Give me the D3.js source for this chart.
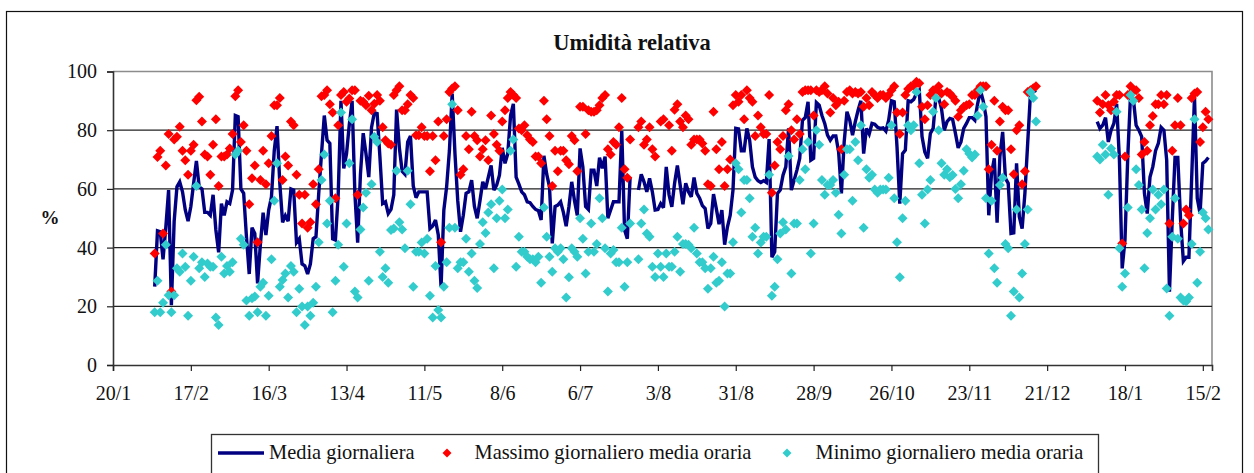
<!DOCTYPE html>
<html><head><meta charset="utf-8">
<script src="https://cdnjs.cloudflare.com/ajax/libs/d3/7.8.5/d3.min.js"></script>
<style>html,body{margin:0;padding:0;background:#fff}svg{display:block}</style>
</head><body><svg id="c" width="1254" height="473"></svg>
<script>
const title = "Umidità relativa";
const yLabel = "%";
const yTicks = [0,20,40,60,80,100];
const seriesNames = ["Media giornaliera","Massimo giornaliero media oraria","Minimo giornaliero media oraria"];
const axisStart = new Date(Date.UTC(2004,0,20));
const firstDay = 15;      // first record = axisStart + 15 days
const tickCount = 15;     // one tick every 28 days
const tickStepDays = 28;
const axisEndDays = 395.3;

const mediaGiornaliera = [
26.7,45.7,45.4,36,47,59.6,20.4,49,60.7,62.4,
59,52.8,49,54,61.9,69.5,60.7,60,52,52,
51,58,46,38.4,55,51,55.6,55,59.6,85,
84.6,60,58.5,43.7,31,46.8,44.8,27.8,40.9,51.9,
44.3,52.8,57.3,73,81.4,61.9,48.6,50.9,49,60,
59.6,41.7,43,34.4,33.8,31,34.4,43,43.7,58.5,
72,85,76.6,75.5,43,42.6,58,90,67,72,
82,90,58.5,41.7,65,79,72,64,81,86,
85.7,71,55,55.6,51.6,53,58,87,74,66,
65,76,78,61,57,59,59,59,59,46.5,
47.4,49.4,44.3,26.7,52.8,60.7,73,92.5,72,56,
45.4,51,58.5,59,63,54,50,56,62.4,60,
64,68,59.6,61.3,64.7,74,68.7,72,85,89,
64,61.6,59,58,55.6,55.3,54,53,52.6,49.4,
71.3,65,60.7,41.4,54,54.5,55.6,52,47.3,54,
62.4,56,51,73.8,67.5,54,53,66.4,66.4,61,
70.6,67,71,50,52.8,55.6,55.6,55.6,79.7,46,
43,64,null,null,59.6,65,62.4,59,63.6,59,
52.8,53,55,53.6,67.5,58,53.9,61.9,68,61.3,
54.8,61.9,59,57.3,63.9,58.5,56.8,54.3,53.3,46.5,
48.2,58.2,53.3,48,52.8,41,47,51,59.6,80.6,
80.4,73,73,80.6,76.6,67.5,64,62.8,62.2,62.8,
62.2,77,36.7,38.6,58.5,59.6,64.7,67.5,80.6,59.6,
63,66.4,70.4,83.4,84.3,89.7,69.8,70.4,89.4,88.5,
85,82.3,78.3,76.6,78,78,72.6,58.5,76,86.3,
83.4,78.3,82.9,86.8,90,72,80.6,78.7,82.3,82,
81,80.6,80.8,79.7,83.4,90,89.7,74.3,55,72,
73.2,90,89.7,90.5,92.5,93.6,77.8,72.6,70.4,78.9,
80.6,91.4,91,87.4,80,82.9,84,83.7,79,74,
76,80.6,82.3,84.3,84.3,83.4,89,93.6,90,84.6,
51,65.3,70.4,48.5,71,79.4,63.6,61.9,44.8,45,
68.7,50.5,46.5,58.5,75.5,92.5,93,93.6,
null,null,null,null,null,null,null,null,null,null,null,null,null,null,null,null,null,null,null,null,null,
82.9,80.6,81.7,84.3,76,80,82.3,89,70,32.9,42.6,70.9,92,90.8,81.7,80,77.8,58.5,51.6,64,
67.5,73,75.5,81,80,69.8,25,49.4,70.7,70.7,49.4,35.4,36.7,36.7,64,91.4,56.8,51.6,68.7,69.5,70.7
];

const massimoGiornaliero = [
38,70.9,73,44.8,68,78.7,25,76.8,77.8,81.2,
73,69.8,64.8,73,75,90.2,91.4,83,71.7,71,
64.8,75,83.7,61,71,71,71.7,73.8,78.7,91.6,
93.6,76,81.7,73,54.8,63.6,68,41.8,63,73,
61.6,68.7,78,88.5,88.5,91,63,71,68,83,
81.7,64.8,58,48.2,58,46.8,48.6,61.6,54.8,66.7,
91.6,92,93.6,88.8,86,56.8,81.7,92,93,89.7,
90.8,93.6,93.6,58,90,89.7,88.5,91.7,86.8,89,
92,90,81,76.6,75.5,75,92,93.6,95,86.8,
86.8,88.8,92,91,78.3,78.3,81,78,78,66,
78,69.8,83,41.8,78,83.7,93,94.2,95,86.8,
64.8,66.7,78,73.5,86.3,78,76.6,71,73.5,76.6,
69.8,85,78.7,75,73,83,86.8,91,93,92,
91,80.6,80,81.7,78.3,76.8,76,71,71,68.7,
90,83.7,78,61,73,66,73,73,69.8,68.4,
78,76.6,66,88,88,78.7,86.8,86.3,86.3,86.8,
88.5,91,92,73.5,71.7,76,75,81,91,66.7,
63.8,76.8,null,null,81,83,75,76.8,81,73.5,
71,null,83,83.7,null,81.7,73,87,88.8,83,
81,85,83.7,75,76.8,76.8,76.8,75.5,73,61.6,
61,86.3,73.5,66.7,76,61,66.7,70,88.5,92,
89.7,92,83.7,93.6,91,89.7,78,85,81,78.7,
78.7,92,58.7,68,76,73.5,78,86.8,88.8,80,
76.8,83.7,78.7,93,93.6,93.6,93.6,85,93.6,93,
93.6,95,92.5,86,91,88.5,89.7,73.5,90,93,
93.6,92.5,93,92.5,93,88,91,88.5,93,92,
91,92,92,91,92,93.6,95,86,78.7,86,
92,94,95,95,96.5,96,88,83.7,88.5,92,
93.6,93.6,95,92.5,88.8,93,92.5,91.4,90,84.6,
86.8,88,88.5,88.8,92,92,93.6,95,95,95,
66.7,75,90,73,83,88,86.8,86.8,73.5,65,
80,81.7,61.6,66,93,93.6,94.3,95,
null,null,null,null,null,null,null,null,null,null,null,null,null,null,null,null,null,null,null,null,null,
90,86,88.8,92,88.5,86.8,89.7,92,92,41.4,71,92,95,93.6,93.6,91,71.7,76,73,81.7,
84.8,88.8,88.8,92,88.8,92,48.2,73,81.7,91,81.7,48.2,53,51,91,92.5,93,76,81,86.3,83.7
];

const minimoGiornaliero = [
18,28.7,18,21.2,41,23.8,18,23.8,33,31.8,
38,33.5,16.8,28.7,36.9,61,33,35,30,34.6,
33.5,33.5,16.2,13.6,36.9,31.2,33.7,31.8,35,71.7,
73,43,41,22,16.8,22.7,23.3,18,26.7,28,
16.8,23.6,36,56,68.7,26.7,29,31.2,23,33.7,
31.8,18,26,19.9,13.6,19.9,16.8,21.2,26.7,41.8,
63,71.7,48.2,56,18,28.7,41,86,33.5,48.2,
68.7,83.7,25,23,46.2,53.7,58.7,28.7,61.6,77.8,
76,38.6,30,33,28,46,46.5,66.2,48.6,46.2,
39.8,66.2,54.8,26.7,38.6,38.6,41.7,38,43,23.6,
16.2,33.7,18.7,16.2,26.7,35,46.8,88.8,46.8,33,
35,35,43,31.8,38,28.7,26.2,41.2,48.6,45,
52,54.8,33,50,56,59.8,50,53,73,76.8,
33.5,43.7,38.6,38.6,36.9,36,36,35,36.9,28,
53.7,43.7,36.9,31.8,39.8,38.6,39.8,36,23,29.9,
39.8,38.6,36.9,50,43,31.2,38.6,48.2,38.6,41.2,
56.8,50,39.8,25,38,39.2,35,35,46.8,26.7,
35,48.2,null,null,36,48.2,53,44.8,43.7,33.5,
30,38,33.5,30,38,33.5,33.5,38.6,43.7,31.8,
41.2,41.2,41,39.8,46.8,38,35,35,33,26,
33,36.9,28,28.7,35,19.9,31.2,31.2,41.8,68.7,
66.7,52,63,63,56.8,43.7,46.8,38,41.7,43.7,
43.7,64.8,23.6,26.7,36,44.8,48.6,46.2,71.2,31.2,
48.2,48.2,63,73.5,66.7,76,38,48.2,80,75,
63,58,61.3,61.3,63,58.7,51.2,44.8,64.8,73.5,
73.5,56,76,69.8,81.7,46.8,66.7,63.8,64.8,59.8,
58.7,59.8,59.8,59.8,63.8,81.7,56.8,41.8,29.9,50,
56,81.7,80,81.7,93,68.7,58,48.2,59.8,63,
86.3,91,80,68.7,64.8,66.7,64,64.7,60,56.8,
61.6,66.2,73.5,72,70.7,71.7,85,93.6,88,56.8,
38,56,33,28,61.3,63.8,41.2,39.8,16.8,25,
53,23,31.2,41.2,53,93,91,83,
null,null,null,null,null,null,null,null,null,null,null,null,null,null,null,null,null,null,null,null,null,
71,70,75,71.7,58,73.8,71.7,86.3,39.8,26.7,31.2,53.7,92,90,66.7,61.3,53,33,45,50,
59.8,53,58,54.8,59.8,26.1,16.8,43.7,56.8,43,23,22,21.6,23,41.2,83.7,28,38.6,52,50,46.2
];

const serifFont = "'Liberation Serif'";
const svg = d3.select("#c").style("font-family",serifFont);
const dayMs = 864e5;
const x = d3.scaleUtc().domain([axisStart, new Date(+axisStart + axisEndDays*dayMs)]).range([113,1212]);
const y = d3.scaleLinear().domain([0,100]).range([365,71.5]);
const dateOf = i => d3.utcDay.offset(axisStart, firstDay+i);

// outer chart frame
svg.append("rect").attr("x",6.5).attr("y",11.5).attr("width",1236).attr("height",500)
  .attr("fill","#fff").attr("stroke","#111").attr("stroke-width",1.2);

// plot frame (top and right edges) and gridlines
svg.append("path").attr("d",`M113,${y(100)}H1212V${y(0)}`).attr("fill","none").attr("stroke","#8c8c8c").attr("stroke-width",1.6);
svg.append("g").selectAll("line").data(yTicks.filter(t=>t>0&&t<100)).join("line")
  .attr("x1",113).attr("x2",1212).attr("y1",d=>y(d)).attr("y2",d=>y(d))
  .attr("stroke","#222").attr("stroke-width",1.2);

// axes
const tickDates = d3.range(tickCount).map(k=>d3.utcDay.offset(axisStart,k*tickStepDays));
const xAxis = svg.append("g").attr("transform",`translate(0,${y(0)})`)
  .call(d3.axisBottom(x).tickValues(tickDates).tickFormat(d3.utcFormat("%-d/%-m")).tickSizeOuter(0).tickSize(6).tickPadding(14.8));
const yAxis = svg.append("g").attr("transform","translate(113,0)")
  .call(d3.axisLeft(y).tickValues(yTicks).tickSizeOuter(0).tickSize(6).tickPadding(10));
[xAxis,yAxis].forEach(g=>{
  g.attr("font-family",null).attr("font-size",null);
  g.selectAll("text").style("font-family",serifFont).style("font-size","20px").attr("fill","#111");
  g.selectAll("line").attr("stroke","#222").attr("stroke-width",1.2);
  g.select(".domain").attr("stroke","#333").attr("stroke-width",1.6);
});

// series
const line = d3.line().defined(d=>d!==null).x((d,i)=>x(dateOf(i))).y(d=>y(d));
svg.append("path").attr("d",line(mediaGiornaliera)).attr("fill","none").attr("stroke","#000080")
  .attr("stroke-width",3.4).attr("stroke-linejoin","miter").attr("stroke-miterlimit",3);
const diamond = d3.symbol(d3.symbolSquare,50)();
const legendDiamond = d3.symbol(d3.symbolSquare,40)();
function markers(values,color){
  svg.append("g").selectAll("path").data(values.map((v,i)=>({v,i})).filter(d=>d.v!==null)).join("path")
    .attr("d",diamond).attr("fill",color)
    .attr("transform",d=>`translate(${x(dateOf(d.i))},${y(d.v)}) rotate(45)`);
}
markers(massimoGiornaliero,"#ff0000");
markers(minimoGiornaliero,"#33cccc");

// title and y label
svg.append("text").attr("x",632).attr("y",50).attr("text-anchor","middle").style("font-family",serifFont).style("font-weight","bold").style("font-size","22.5px").attr("fill","#111").text(title);
svg.append("text").attr("x",50).attr("y",224).attr("text-anchor","middle").style("font-family",serifFont).style("font-weight","bold").style("font-size","19px").attr("fill","#111").text(yLabel);

// legend
const lg = svg.append("g");
lg.append("rect").attr("x",211.5).attr("y",434.5).attr("width",887).attr("height",60).attr("fill","#fff").attr("stroke","#333").attr("stroke-width",1.3);
lg.append("line").attr("x1",218).attr("x2",264).attr("y1",453).attr("y2",453).attr("stroke","#000080").attr("stroke-width",3.4);
const legendX = [269,474.5,815.5];
seriesNames.forEach((n,i)=>lg.append("text").attr("x",legendX[i]).attr("y",459).style("font-family",serifFont).style("font-size","20.4px").attr("fill","#111").text(n));
lg.append("path").attr("d",legendDiamond).attr("fill","#ff0000").attr("transform","translate(447,453) rotate(45)");
lg.append("path").attr("d",legendDiamond).attr("fill","#33cccc").attr("transform","translate(787,453) rotate(45)");
</script></body></html>
